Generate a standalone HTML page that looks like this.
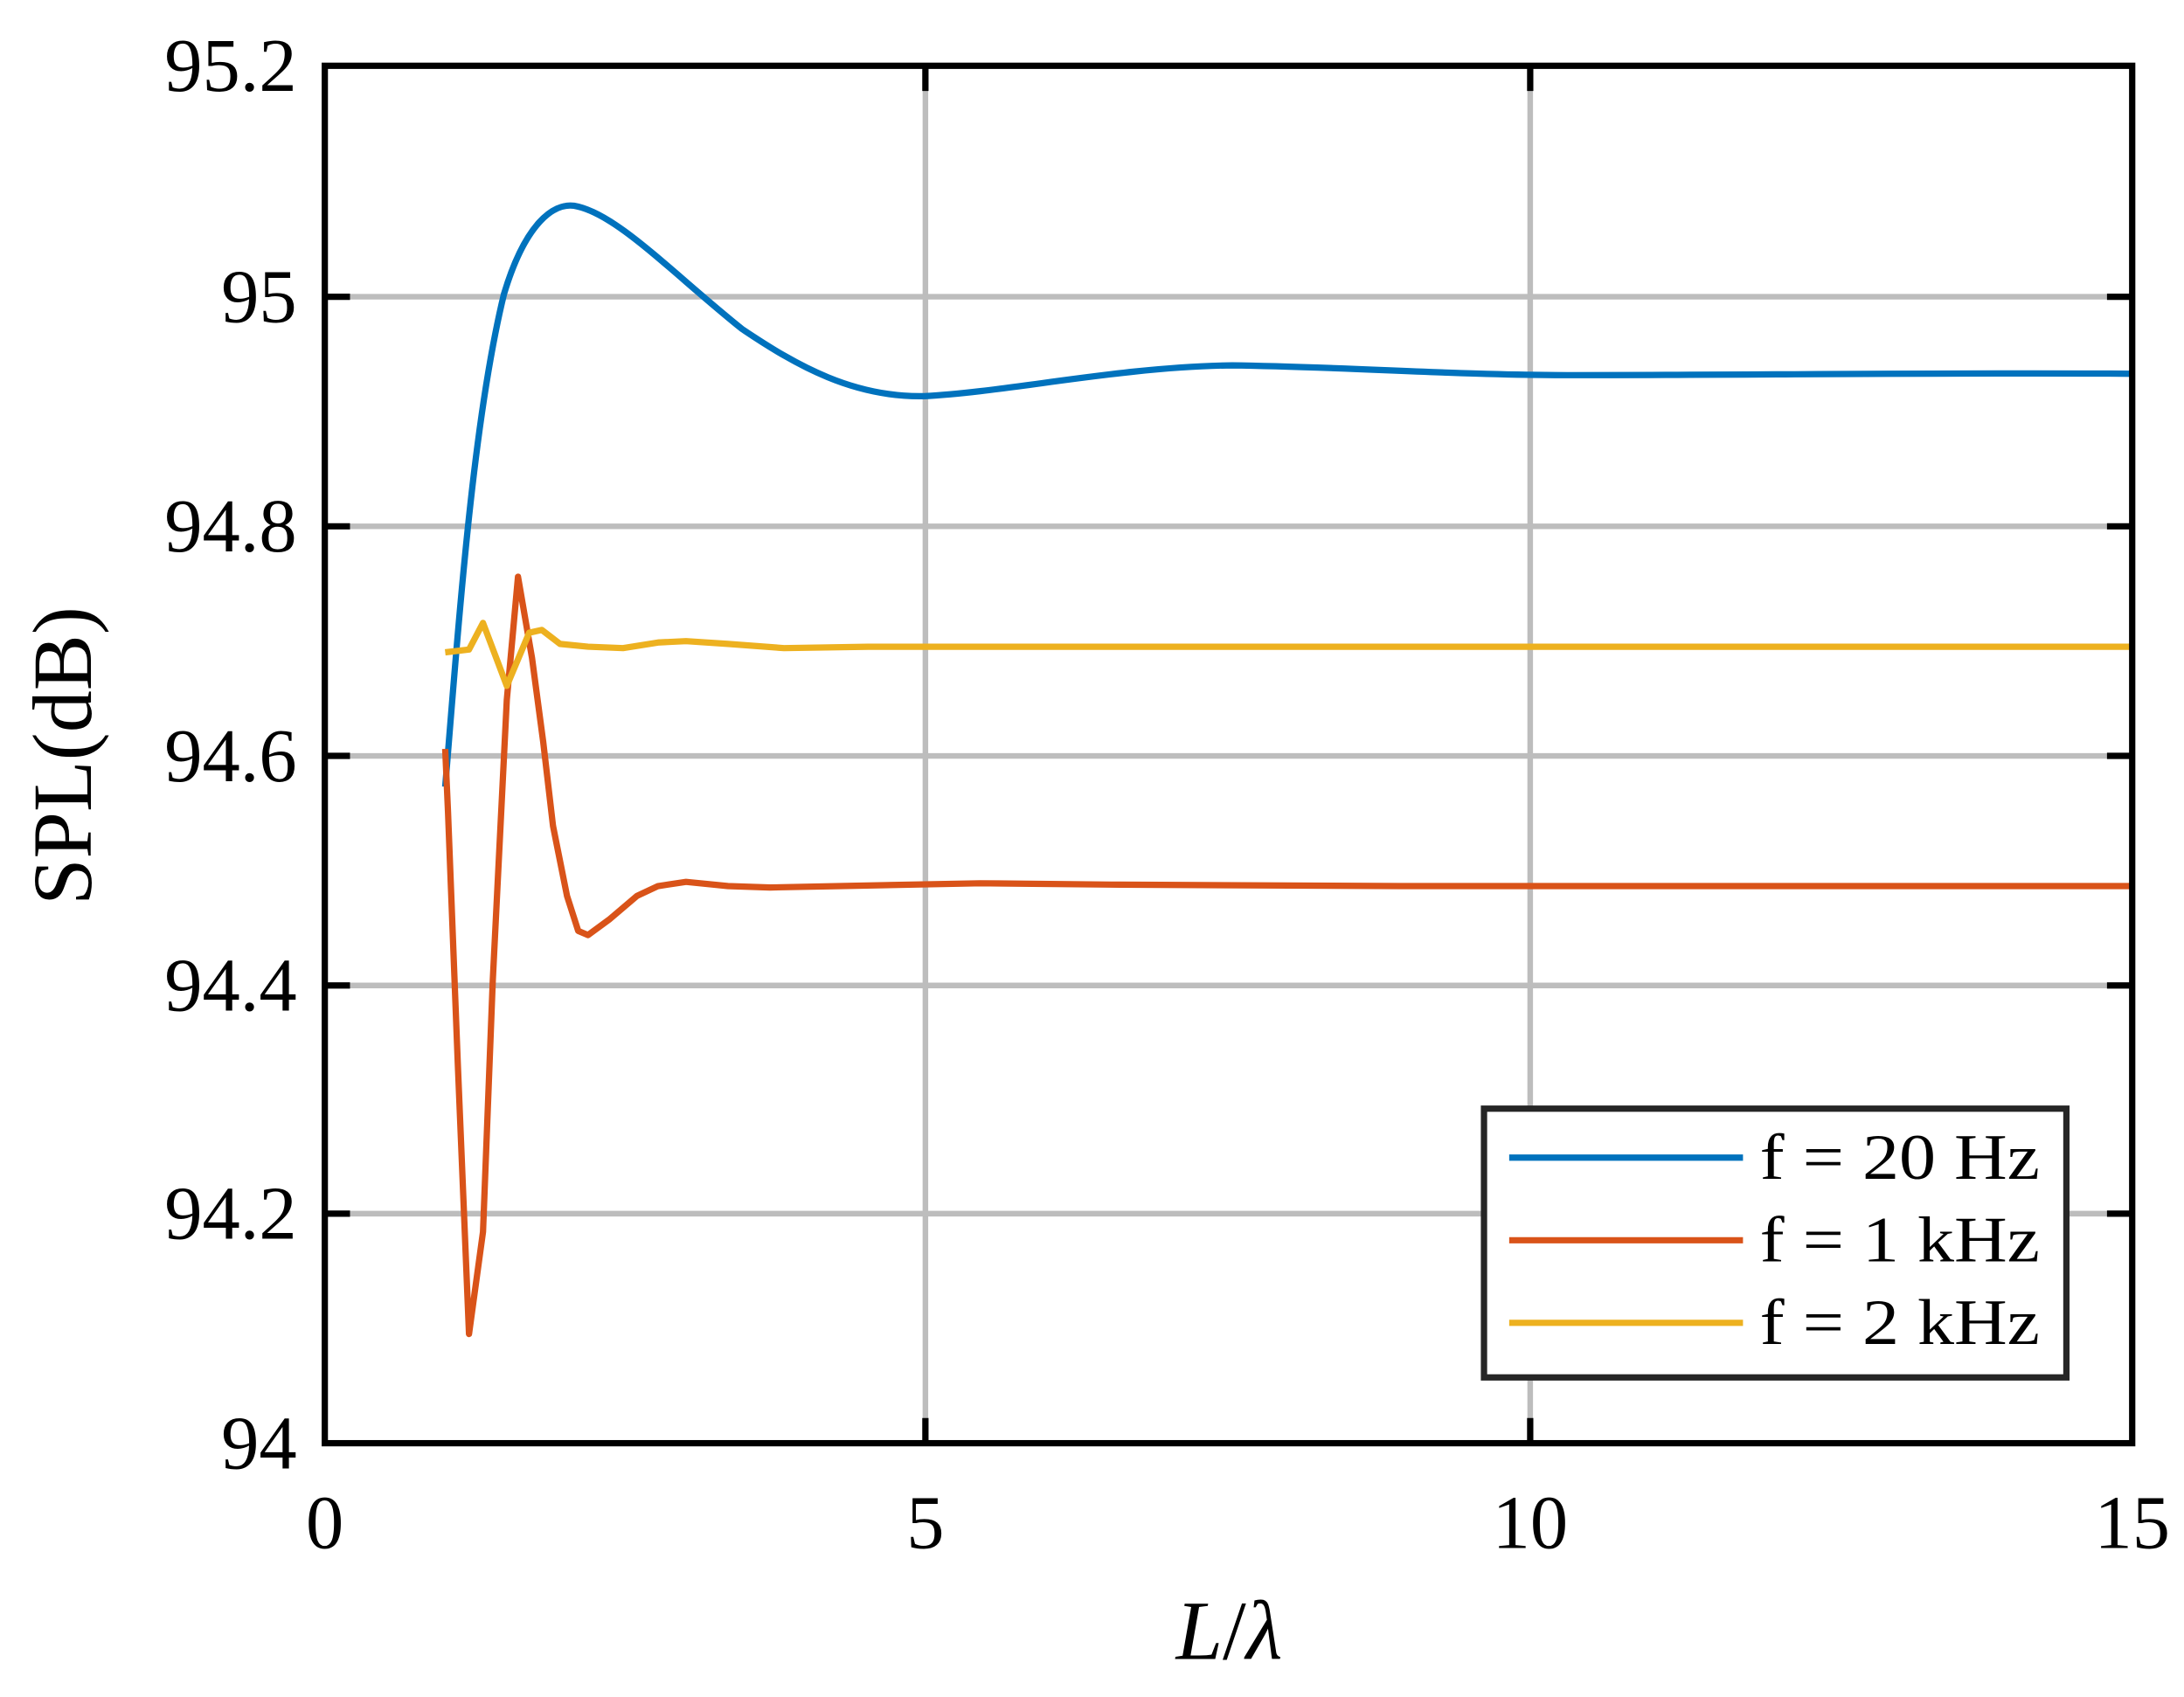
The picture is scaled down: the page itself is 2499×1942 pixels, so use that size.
<!DOCTYPE html>
<html><head><meta charset="utf-8"><style>
html,body{margin:0;padding:0;background:#fff;}
svg{display:block;}
text{font-family:"Liberation Serif",serif;fill:#000;}
</style></head><body>
<svg width="2499" height="1942" viewBox="0 0 1560 1212.3" xmlns="http://www.w3.org/2000/svg">
<rect width="1560" height="1212.3" fill="#fff"/>
<g stroke="#bdbdbd" stroke-width="4">
<line x1="661" y1="47" x2="661" y2="1031"/>
<line x1="1093" y1="47" x2="1093" y2="1031"/>
<line x1="232" y1="212" x2="1523" y2="212"/>
<line x1="232" y1="376" x2="1523" y2="376"/>
<line x1="232" y1="540" x2="1523" y2="540"/>
<line x1="232" y1="704" x2="1523" y2="704"/>
<line x1="232" y1="867" x2="1523" y2="867"/>
</g>
<g stroke="#000" stroke-width="4.5">
<line x1="232" y1="212" x2="250" y2="212"/><line x1="1523" y1="212" x2="1505" y2="212"/>
<line x1="232" y1="376" x2="250" y2="376"/><line x1="1523" y1="376" x2="1505" y2="376"/>
<line x1="232" y1="540" x2="250" y2="540"/><line x1="1523" y1="540" x2="1505" y2="540"/>
<line x1="232" y1="704" x2="250" y2="704"/><line x1="1523" y1="704" x2="1505" y2="704"/>
<line x1="232" y1="867" x2="250" y2="867"/><line x1="1523" y1="867" x2="1505" y2="867"/>
<line x1="661" y1="47" x2="661" y2="65"/><line x1="661" y1="1031" x2="661" y2="1013"/>
<line x1="1093" y1="47" x2="1093" y2="65"/><line x1="1093" y1="1031" x2="1093" y2="1013"/>
</g>
<g fill="none" stroke-width="4.5" stroke-linejoin="round">
<path stroke="#0072BD" d="M318,562 C328,440 338,300 360,210 C375,160 395,145 410,147 C440,152 480,195 530,235 C570,262 610,284 660,283 C720,280 800,262 880,261 C960,262 1040,268 1120,268 C1250,268 1400,266 1523,267"/>
<polyline stroke="#D95319" points="318,535 320,580 327,760 335,953 345,880 352,700 357,600 362,500 370,412 380,470 388,530 395,590 405,640 413,665 420,668 435,657 455,640 470,633 490,630 520,633 550,634 600,633 700,631 800,632 1000,633 1523,633"/>
<polyline stroke="#EDB120" points="318,466 335,464 345,445 362,490 378,452 387,450 400,460 420,462 445,463 470,459 490,458 520,460 560,463 620,462 1523,462"/>
</g>
<rect x="232" y="47" width="1291" height="984" fill="none" stroke="#000" stroke-width="4.5"/>
<rect x="1060" y="792" width="416" height="192" fill="#fff" stroke="#262626" stroke-width="4.5"/>
<g stroke-width="4.5">
<line x1="1078" y1="827" x2="1245" y2="827" stroke="#0072BD"/>
<line x1="1078" y1="886" x2="1245" y2="886" stroke="#D95319"/>
<line x1="1078" y1="945" x2="1245" y2="945" stroke="#EDB120"/>
</g>
<g font-size="46" textLength="200">
<text x="1257" y="842" textLength="200" lengthAdjust="spacingAndGlyphs">f = 20 Hz</text>
<text x="1257" y="901" textLength="200" lengthAdjust="spacingAndGlyphs">f = 1 kHz</text>
<text x="1257" y="960" textLength="200" lengthAdjust="spacingAndGlyphs">f = 2 kHz</text>
</g>
<g font-size="54" text-anchor="end">
<text x="212" y="65">95.2</text>
<text x="212" y="230">95</text>
<text x="212" y="394">94.8</text>
<text x="212" y="558">94.6</text>
<text x="212" y="722">94.4</text>
<text x="212" y="885">94.2</text>
<text x="212" y="1049">94</text>
</g>
<g font-size="54" text-anchor="middle">
<text x="232" y="1106">0</text>
<text x="661" y="1106">5</text>
<text x="1093" y="1106">10</text>
<text x="1523" y="1106">15</text>
</g>
<text x="878" y="1185" font-size="60" text-anchor="middle"><tspan font-style="italic">L</tspan>/<tspan font-style="italic">λ</tspan></text>
<text transform="translate(65,540) rotate(-90)" font-size="60" text-anchor="middle">SPL(dB)</text>
</svg>
</body></html>
